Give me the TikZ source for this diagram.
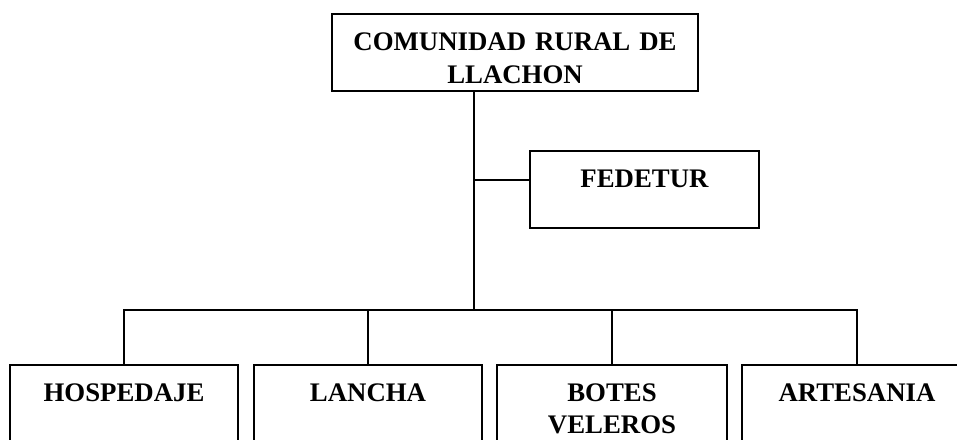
\documentclass[tikz,border=0pt]{standalone}
\usepackage{fontspec}
\setmainfont{Liberation Serif}
\tikzset{
  orgbox/.style={draw, line width=1.4pt, inner sep=0pt, anchor=base, align=center,
    font=\bfseries\fontsize{26.8}{33}\selectfont, text height=36pt},
  link/.style={line width=1.4pt}
}
\begin{document}
\begin{tikzpicture}[x=1pt,y=-1pt]
  \useasboundingbox (0,0) rectangle (957,439);
  \clip (0,0) rectangle (957,439);

  % Head of the chart
  \node[orgbox, text width=366pt, text depth=41pt] (comunidad) at (515,50) {COMUNIDAD RURAL DE\\LLACHON};
  \node[orgbox, text width=229pt, text depth=41pt] (fedetur) at (644.5,187) {FEDETUR};

  % Services (cut at the bottom edge)
  \node[orgbox, text width=228pt, text depth=90pt] (hospedaje) at (124,401) {HOSPEDAJE};
  \node[orgbox, text width=228pt, text depth=90pt] (lancha) at (368,401) {LANCHA};
  \node[orgbox, text width=230pt, text depth=90pt, font=\bfseries\fontsize{26.8}{32}\selectfont] (botes) at (612,401) {BOTES\\VELEROS};
  \node[orgbox, text width=230pt, text depth=90pt] (artesania) at (857,401) {ARTESANIA};

  % Connectors
  \coordinate (fedjoin) at (474,180);
  \coordinate (split) at (474,310);
  \draw[link] (comunidad.south -| split) -- (split);
  \draw[link] (fedjoin) -- (fedjoin -| fedetur.west);
  \draw[link] (hospedaje.north) |- (split) -| (artesania.north);
  \draw[link] (lancha.north) -- (lancha.north |- split);
  \draw[link] (botes.north) -- (botes.north |- split);
\end{tikzpicture}
\end{document}
